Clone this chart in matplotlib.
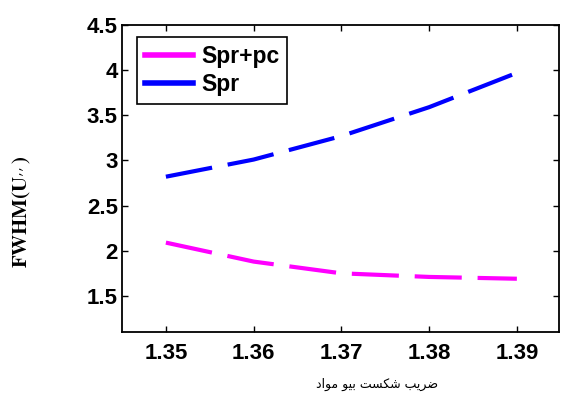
import matplotlib

matplotlib.use("Agg")
import matplotlib.pyplot as plt

# refractive index of the biomaterial
n_index = [1.35, 1.36, 1.37, 1.38, 1.39]
fwhm_spr_pc = [2.09, 1.88, 1.75, 1.71, 1.69]
fwhm_spr = [2.82, 3.01, 3.27, 3.59, 3.97]

x_ticks = [1.35, 1.36, 1.37, 1.38, 1.39]
y_ticks = [1.5, 2, 2.5, 3, 3.5, 4, 4.5]

# "ضریب شکست بیو مواد" written with presentation forms in visual order,
# because matplotlib does no Arabic shaping
xlabel_fa = "\uFEA9\uFE8D\uFEEE\uFEE3 \uFEEE\uFEF4\uFE91 \uFE96\uFEB4\uFEDC\uFEB7 \uFE90\uFEF3\uFEAE\uFEBF"

plt.rcParams["font.family"] = ["Liberation Sans", "DejaVu Sans"]
plt.rcParams["mathtext.fontset"] = "stix"

fig = plt.figure(figsize=(5.61, 3.97), dpi=100)
ax = fig.add_axes([0.2175, 0.1637, 0.7789, 0.7733])

dash = (11.3, 3.8)
ax.plot(n_index, fwhm_spr_pc, color="#ff00ff", lw=3.0, dashes=dash,
        dash_capstyle="butt", label="Spr+pc")
ax.plot(n_index, fwhm_spr, color="#0000ff", lw=3.0, dashes=dash,
        dash_capstyle="butt", label="Spr")

ax.set_xlim(1.345, 1.3948)
ax.set_ylim(1.1, 4.5)
ax.set_xticks(x_ticks)
ax.set_xticklabels([f"{v:.2f}" for v in x_ticks])
ax.set_yticks(y_ticks)
ax.set_yticklabels([f"{v:g}" for v in y_ticks])
ax.tick_params(direction="in", length=4, width=1, top=True, right=True,
               labelsize=16)
ax.tick_params(axis="x", pad=8)
ax.tick_params(axis="y", pad=3)
for lab in ax.get_xticklabels() + ax.get_yticklabels():
    lab.set_fontweight("bold")
for sp in ax.spines.values():
    sp.set_linewidth(1.3)

leg = ax.legend(loc="upper left", bbox_to_anchor=(0.034, 0.962), borderaxespad=0,
                prop={"weight": "bold", "size": 16.5},
                handlelength=2.1, handletextpad=0.35, borderpad=0.35,
                labelspacing=0.25, fancybox=False, framealpha=1)
leg.get_frame().set_edgecolor("black")
leg.get_frame().set_linewidth(1.2)
for h in leg.get_lines():
    h.set_linestyle("-")
    h.set_linewidth(4)

fig.text(22 / 561, 1 - 212 / 397, r"$\mathbf{FWHM(U_{\prime\prime}\,)}$",
         rotation=90, ha="center", va="center", fontsize=15)
fig.text(377 / 561, 1 - 384 / 397, xlabel_fa, ha="center", va="center",
         fontsize=9, family="DejaVu Sans")

fig.savefig("out.png", dpi=100)
